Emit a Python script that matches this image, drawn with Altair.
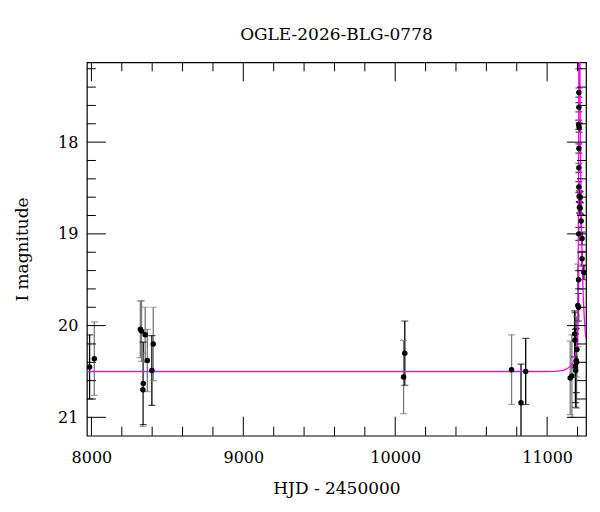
import altair as alt
import pandas as pd

# ---- observed photometry (HJD-2450000, I mag, error, bar colour) ----
obs_t = [7988, 8019,
         8322, 8330, 8354, 8368, 8341, 8339, 8398, 8407,
         10063, 10055, 10766, 10828, 10859,
         11208, 11209, 11209, 11208, 11211, 11209, 11209, 11209, 11211, 11218,
         11213, 11217, 11224, 11208, 11230, 11230, 11242, 11207, 11207, 11202,
         11181, 11183, 11196, 11192, 11194, 11186, 11188, 11163, 11152]
obs_mag = [20.45, 20.36,
           20.04, 20.06, 20.10, 20.38, 20.63, 20.70, 20.49, 20.20,
           20.30, 20.56, 20.48, 20.84, 20.50,
           17.08, 17.46, 17.62, 17.81, 17.84, 18.07, 18.28, 18.49, 18.59, 18.60,
           18.71, 18.72, 18.86, 19.00, 19.05, 19.27, 19.42, 19.50, 19.80, 19.78,
           20.09, 20.16, 20.26, 20.38, 20.40, 20.44, 20.49, 20.55, 20.57]
obs_err = [0.35, 0.40,
           0.31, 0.33, 0.30, 0.34, 0.45, 0.40, 0.38, 0.40,
           0.35, 0.40, 0.38, 0.42, 0.36,
           0.12, 0.05, 0.05, 0.05, 0.05, 0.05, 0.05, 0.06, 0.06, 0.06,
           0.06, 0.06, 0.07, 0.07, 0.07, 0.08, 0.08, 0.10, 0.15, 0.45,
           0.25, 0.30, 0.30, 0.35, 0.50, 0.40, 0.40, 0.45, 0.40]
obs_col = ["k", "g",
           "g", "g", "g", "g", "k", "g", "k", "g",
           "k", "g", "g", "k", "k",
           "k", "k", "k", "k", "k", "k", "k", "k", "k", "k",
           "k", "k", "k", "k", "k", "k", "k", "k", "k", "g",
           "k", "k", "g", "k", "g", "k", "k", "g", "g"]

# ---- model light curve ----
mod_t = [7970, 11000, 11100, 11140, 11165, 11180, 11190, 11196, 11200, 11203,
         11205, 11206.5, 11208, 11211, 11214, 11216, 11218, 11221, 11226, 11231,
         11236, 11241, 11247, 11251, 11256]
mod_mag = [20.50, 20.50, 20.49, 20.46, 20.42, 20.36, 20.28, 20.18, 20.06, 19.90,
           19.40, 18.50, 17.50, 16.60, 16.70, 17.20, 17.70, 18.30, 18.90, 19.30,
           19.60, 19.80, 19.97, 20.07, 20.14]

# ---- axis tick values ----
x_major = [8000, 9000, 10000, 11000]
x_minor = [8200, 8400, 8600, 8800, 9200, 9400, 9600, 9800,
           10200, 10400, 10600, 10800, 11200]
y_major = [18, 19, 20, 21]
y_minor = [17.2, 17.4, 17.6, 17.8, 18.2, 18.4, 18.6, 18.8, 19.2, 19.4,
           19.6, 19.8, 20.2, 20.4, 20.6, 20.8]

W, H = 500, 374
XDOM = [7970, 11256]
YDOM = [17.13, 21.2]
FONT = "DejaVu Serif"

pts = pd.DataFrame({"t": obs_t, "mag": obs_mag, "err": obs_err, "c": obs_col})
pts["lo"] = pts["mag"] - pts["err"]
pts["hi"] = pts["mag"] + pts["err"]
mod = pd.DataFrame({"t": mod_t, "mag": mod_mag})

xs = alt.Scale(domain=XDOM, nice=False, zero=False)
ys = alt.Scale(domain=YDOM, reverse=True, nice=False, zero=False)
XA = alt.Axis(values=x_major, format="d", ticks=False, domain=False,
              grid=False, labelPadding=14, titlePadding=15)
YA = alt.Axis(values=y_major, format="d", ticks=False, domain=False,
              grid=False, labelPadding=9, titlePadding=26)
XT = "HJD - 2450000"
YT = "I magnitude"


def xe(field):
    return alt.X(field, scale=xs, axis=XA, title=XT)


def ye(field):
    return alt.Y(field, scale=ys, axis=YA, title=YT)


colscale = alt.Color("c:N", scale=alt.Scale(domain=["k", "g"], range=["#000000", "#7a7a7a"]),
                     legend=None)

bars = alt.Chart(pts).mark_rule(clip=True, strokeWidth=1.3).encode(
    x=xe("t:Q"), y=ye("lo:Q"), y2="hi:Q", color=colscale)
cap_lo = alt.Chart(pts).mark_tick(clip=True, orient="horizontal", size=7, thickness=1.2).encode(
    x=xe("t:Q"), y=ye("lo:Q"), color=colscale)
cap_hi = alt.Chart(pts).mark_tick(clip=True, orient="horizontal", size=7, thickness=1.2).encode(
    x=xe("t:Q"), y=ye("hi:Q"), color=colscale)
line = alt.Chart(mod).mark_line(clip=True, color="#ff00ff", strokeWidth=1.3,
                                interpolate="monotone").encode(x=xe("t:Q"), y=ye("mag:Q"))
dots = alt.Chart(pts).mark_circle(clip=True, size=30, color="black", opacity=1).encode(
    x=xe("t:Q"), y=ye("mag:Q"))

xmaj = pd.DataFrame({"v": x_major})
xmin = pd.DataFrame({"v": x_minor})
ymaj = pd.DataFrame({"v": y_major})
ymin = pd.DataFrame({"v": y_minor})


def xticks(df, length):
    b = alt.Chart(df).mark_rule(color="black", strokeWidth=1).encode(
        x=xe("v:Q"), y=alt.value(H), y2=alt.value(H - length))
    t = alt.Chart(df).mark_rule(color="black", strokeWidth=1).encode(
        x=xe("v:Q"), y=alt.value(0), y2=alt.value(length))
    return [b, t]


def yticks(df, length):
    l = alt.Chart(df).mark_rule(color="black", strokeWidth=1).encode(
        y=ye("v:Q"), x=alt.value(0), x2=alt.value(length))
    r = alt.Chart(df).mark_rule(color="black", strokeWidth=1).encode(
        y=ye("v:Q"), x=alt.value(W), x2=alt.value(W - length))
    return [l, r]


tick_layers = xticks(xmaj, 19) + xticks(xmin, 9) + yticks(ymaj, 19) + yticks(ymin, 9)

chart = alt.layer(bars, cap_lo, cap_hi, line, dots, *tick_layers).properties(
    width=W, height=H,
    title=alt.TitleParams("OGLE-2026-BLG-0778", fontSize=17, fontWeight="normal",
                          font=FONT, color="black", anchor="middle", frame="group",
                          offset=18),
    padding={"left": 5, "top": 17, "right": 5, "bottom": 5},
).configure(font=FONT).configure_view(
    stroke="black", strokeWidth=1.2
).configure_axis(
    labelFont=FONT, titleFont=FONT, labelFontSize=16, titleFontSize=17,
    labelColor="black", titleColor="black", titleFontWeight="normal"
)

chart.save("out.html", embed_options={"renderer": "svg", "actions": False})
